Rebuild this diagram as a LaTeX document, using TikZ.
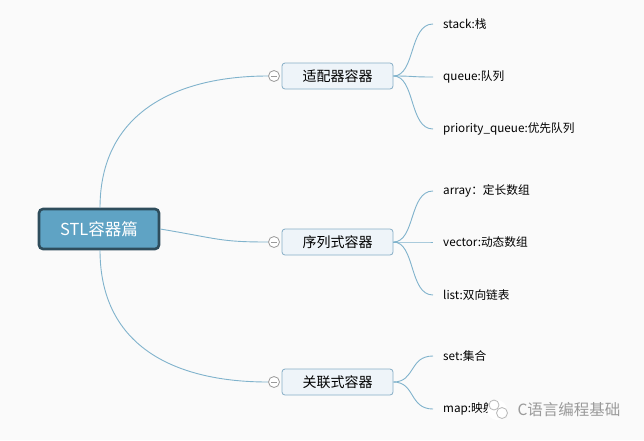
\documentclass[tikz,border=0pt]{standalone}
\usepackage{fontspec}
\setmainfont{Noto Sans CJK SC}
\definecolor{rootfill}{HTML}{5FA3C4}
\definecolor{rootline}{HTML}{2E4D5C}
\definecolor{boxfill}{HTML}{EEF4F9}
\definecolor{boxline}{HTML}{86AEC6}
\definecolor{linkcol}{HTML}{80B3CC}
\definecolor{markgray}{HTML}{9A9A9A}
\tikzset{
  rootbox/.style={draw=rootline, line width=2.6pt, fill=rootfill, rounded corners=4pt,
    minimum width=120pt, minimum height=40pt, text=white, font=\fontsize{16.5}{18}\selectfont},
  groupbox/.style={draw=boxline, line width=0.8pt, fill=boxfill, rounded corners=3pt,
    minimum width=111pt, minimum height=26pt, font=\fontsize{14}{16}\selectfont},
  foldmark/.style={circle, draw=markgray, fill=white, line width=0.8pt, minimum size=11pt, inner sep=0pt},
  leaf/.style={anchor=west, inner xsep=10pt, inner ysep=2pt, font=\fontsize{11.7}{13}\selectfont},
  link/.style={draw=linkcol, line width=0.9pt},
}
\begin{document}
\begin{tikzpicture}[x=1pt, y=-1pt]
    % 背景
    \fill[white!98!black] (0,0) rectangle (644,440);
    \useasboundingbox (0,0) rectangle (644,440);

    % 根节点
    \node[rootbox] (root) at (99,229) {STL容器篇};

    % 三个分组
    \node[groupbox] (adapt) at (337.5,76) {适配器容器};
    \node[groupbox] (seq) at (337.5,242) {序列式容器};
    \node[groupbox] (assoc) at (337.5,382) {关联式容器};

    % 根到分组的连线
    \draw[link] (100,208) .. controls (100,110) and (180,76) .. (268,76);
    \draw[link] (root.east) .. controls (220,239) and (220,242) .. (268,242);
    \draw[link] (100,250) .. controls (100,350) and (180,382) .. (268,382);

    % 折叠标记
    \foreach \g/\y in {adapt/76, seq/242, assoc/382} {
        \node[foldmark] (fold-\g) at (274,\y) {};
        \draw[markgray, line width=0.8pt] ([xshift=-3pt]fold-\g.center) -- ([xshift=3pt]fold-\g.center);
    }

    % 叶子节点
    \node[leaf] (stack) at (433,24) {stack:栈};
    \node[leaf] (queue) at (433,77) {queue:队列};
    \node[leaf] (pqueue) at (433,129) {priority\_queue:优先队列};
    \node[leaf] (array) at (433,191) {array：定长数组};
    \node[leaf] (vector) at (433,242) {vector:动态数组};
    \node[leaf] (list) at (433,295) {list:双向链表};
    \node[leaf] (set) at (433,356) {set:集合};
    \node[leaf] (map) at (433,409) {map:映射};

    % 分组到叶子的连线
    \foreach \g/\l in {adapt/stack, adapt/queue, adapt/pqueue, seq/array, seq/vector, seq/list, assoc/set, assoc/map}
        \draw[link] (\g.east) .. controls +(22,0) and +(-24,0) .. (\l.west);

    % 水印
    \fill[white] (497,410) circle (10);
    \draw[markgray!70, line width=0.8pt] (494,405) circle (5);
    \draw[markgray!70, line width=0.8pt] (502,413) circle (5.5);
    \node[anchor=west, text=markgray, font=\fontsize{15.5}{17}\selectfont] (mark) at (514,410) {C语言编程基础};
\end{tikzpicture}
\end{document}
